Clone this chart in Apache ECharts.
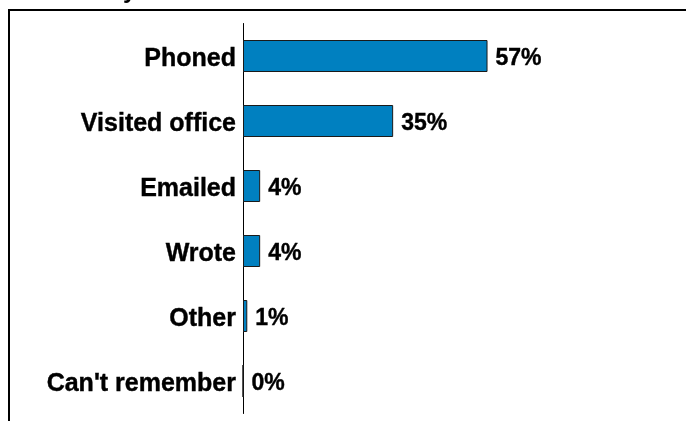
<!DOCTYPE html>
<html><head><meta charset="utf-8">
<script src="https://cdn.jsdelivr.net/npm/echarts@6/dist/echarts.min.js"></script>
<style>html,body{margin:0;padding:0;background:#fff}#c{width:686px;height:421px}</style>
</head><body><div id="c"></div>
<script>
const titleText = "How did you last contact the council?";
const categories = ["Phoned", "Visited office", "Emailed", "Wrote", "Other", "Can't remember"];
const values = [57, 35, 4, 4, 1, 0];
const xMax = 100;

const chart = echarts.init(document.getElementById('c'), null, {renderer: 'canvas'});
const font = '"Liberation Sans", Arial, sans-serif';
chart.setOption({
  animation: false,
  title: {
    text: titleText, left: 18, top: -26,
    textStyle: {fontFamily: font, fontWeight: 'bold', fontSize: 24, color: '#000'}
  },
  graphic: [{
    type: 'rect', shape: {x: 9, y: 10, width: 720, height: 450},
    style: {fill: 'none', stroke: '#000', lineWidth: 2}, z: 10
  }],
  grid: {left: 243, right: 14, top: 23.5, bottom: 7.5, containLabel: false},
  xAxis: {type: 'value', min: 0, max: xMax, show: false},
  yAxis: {
    type: 'category', data: categories, inverse: true,
    axisLine: {show: true, lineStyle: {color: '#000', width: 1}},
    axisTick: {show: false},
    axisLabel: {margin: 7, formatter: '{a|{value}}',
      rich: {a: {color: '#000', fontFamily: font, fontWeight: 'bold', fontSize: 25,
        textBorderColor: '#000', textBorderWidth: 0.4, padding: [6, 0, 0, 0]}}}
  },
  series: [{
    type: 'bar', data: values, barWidth: 32,
    itemStyle: {color: '#0080C0', borderColor: '#1a1a1a', borderWidth: 1},
    label: {
      show: true, position: 'right', distance: 8, formatter: '{c}%', offset: [0, 3],
      color: '#000', fontFamily: font, fontWeight: 'bold', fontSize: 23,
      textBorderColor: '#000', textBorderWidth: 0.4
    }
  }]
});
</script></body></html>
